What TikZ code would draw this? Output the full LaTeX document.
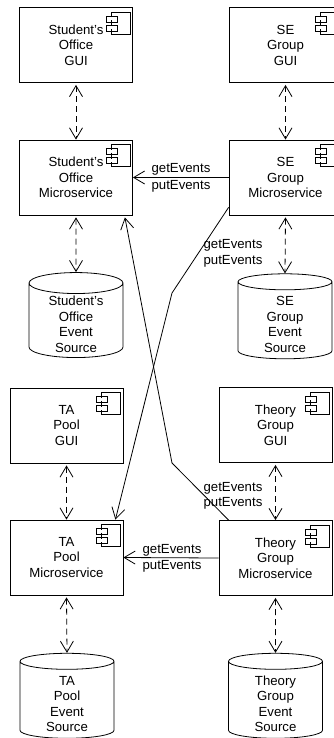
\documentclass[tikz,border=0pt]{standalone}
\usepackage{fontspec}
\setmainfont{Liberation Sans}
\usetikzlibrary{calc,arrows.meta,shapes.geometric}
\newcommand{\esgap}{\rule{0pt}{17pt}}
\tikzset{
	comp/.style={draw,minimum width=113pt,minimum height=75pt,align=center,font=\fontsize{13.2}{15.5}\selectfont,inner sep=0pt},
	store/.style={draw,cylinder,shape border rotate=90,aspect=0.383,minimum width=94pt,minimum height=85pt,align=center,font=\fontsize{13.2}{15.5}\selectfont,inner sep=0pt,inner ysep=-9pt},
	lbl/.style={font=\fontsize{13.2}{15}\selectfont,inner sep=0pt},
	sync/.style={{Straight Barb[length=11pt,width=13pt]}-{Straight Barb[length=11pt,width=13pt]},dash pattern=on 6pt off 4pt,shorten <=2pt},
	call/.style={-{Straight Barb[length=11pt,width=13pt]}},
	compicon/.pic={
		\draw (-7,-6) -- (-7,-11) -- (12,-11) -- (12,11) -- (-7,11) -- (-7,6);
		\draw (-7,-3) -- (-7,3);
		\draw (-12,-7) rectangle (-1,-1);
		\draw (-12,2) rectangle (-1,8);
	}
}
\begin{document}
\begin{tikzpicture}[x=1pt,y=-1pt,line width=0.8pt]
	\useasboundingbox (0,0) rectangle (334,738);
	% student's office
	\node[comp] (soGui) at (76,45) {Student's\\Office\\GUI};
	\node[comp] (soMs) at (76,177.5) {Student's\\Office\\Microservice};
	\node[store] (soEs) at (76,320.5) {\esgap Student's\\Office\\Event\\Source};
	% se group
	\node[comp] (seGui) at (285.5,45) {SE\\Group\\GUI};
	\node[comp] (seMs) at (285.5,177.5) {SE\\Group\\Microservice};
	\node[store] (seEs) at (285,320.5) {\esgap SE\\Group\\Event\\Source};
	% ta pool
	\node[comp] (taGui) at (66.5,425.5) {TA\\Pool\\GUI};
	\node[comp] (taMs) at (66.5,557.5) {TA\\Pool\\Microservice};
	\node[store] (taEs) at (67,700) {\esgap TA\\Pool\\Event\\Source};
	% theory group
	\node[comp] (thGui) at (275.5,425) {Theory\\Group\\GUI};
	\node[comp] (thMs) at (275.5,558) {Theory\\Group\\Microservice};
	\node[store] (thEs) at (275.5,700) {\esgap Theory\\Group\\Event\\Source};
	% component icons
	\foreach \nm in {soGui,soMs,seGui,seMs,taGui,taMs,thGui,thMs}{
		\path ($(\nm.north east)+(-15,16)$) pic {compicon};
	}
	% gui and event source links
	\foreach \nm in {so,se,ta,th}{
		\draw[sync] (\nm Gui.south) -- (\nm Ms.north);
		\draw[sync] (\nm Ms.south) -- (\nm Es.north);
	}
	% event exchange
	\draw[call] (seMs.west) -- (soMs.east);
	\draw[call] (thMs.west) -- (taMs.east);
	\coordinate (bendA) at (172,293);
	\coordinate (bendB) at (172,463);
	\draw[call] ($(seMs.south west)+(0,-8)$) -- (bendA) -- ($(taMs.north east)+(-8,0)$);
	\draw[call] ($(thMs.north west)+(10,0)$) -- (bendB) -- ($(soMs.south east)+(-8,2)$);
	\node[lbl] (getA) at (181,169) {getEvents};
	\node[lbl] (putA) at (181,186) {putEvents};
	\node[lbl] (getB) at (172,550) {getEvents};
	\node[lbl] (putB) at (172,566) {putEvents};
	\node[lbl] (getC) at (233,245) {getEvents};
	\node[lbl] (putC) at (233,261) {putEvents};
	\node[lbl] (getD) at (233,488) {getEvents};
	\node[lbl] (putD) at (233,503) {putEvents};
\end{tikzpicture}
\end{document}
